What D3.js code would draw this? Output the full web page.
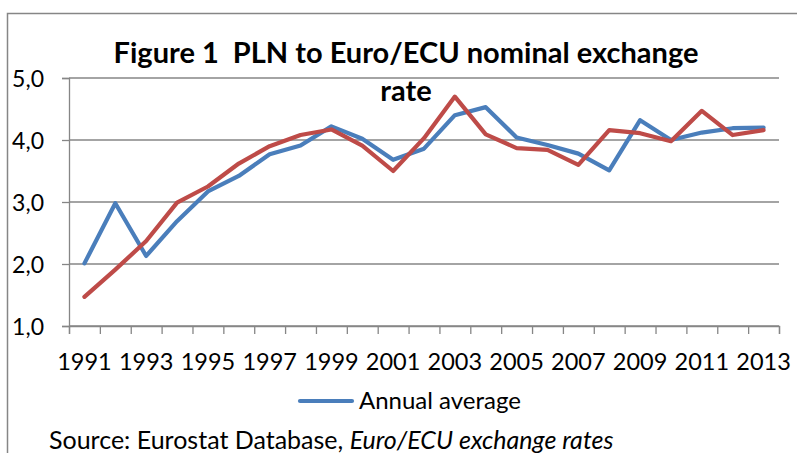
<!DOCTYPE html>
<html>
<head>
<meta charset="utf-8">
<script src="https://cdn.jsdelivr.net/npm/d3@7"></script>
<style>
  body { margin: 0; background: #fff; }
  text { font-family: Lato, "Open Sans", sans-serif; fill: #000; }
</style>
</head>
<body>
<div id="chart"></div>
<script>

// data
var years = ["1991","1992","1993","1994","1995","1996","1997","1998","1999","2000","2001",
             "2002","2003","2004","2005","2006","2007","2008","2009","2010","2011","2012","2013"];
var annualAverage = [2.01, 2.98, 2.13, 2.69, 3.17, 3.42, 3.77, 3.91, 4.22, 4.02, 3.68, 3.86,
                     4.40, 4.53, 4.04, 3.92, 3.78, 3.51, 4.32, 4.00, 4.12, 4.19, 4.20];
var secondSeries = [1.47, 1.91, 2.37, 2.99, 3.25, 3.62, 3.90, 4.08, 4.17, 3.91, 3.50, 4.03,
                    4.70, 4.09, 3.87, 3.84, 3.60, 4.16, 4.11, 3.98, 4.47, 4.08, 4.16];
var yTicks = [1, 2, 3, 4, 5];
var xLabels = years.filter(function(d, i) { return i % 2 === 0; });

var W = 797, H = 453;
var plot = {left: 69, right: 779, top: 78, bottom: 326};
var grey = "#868686";

var svg = d3.select("#chart")
  .append("svg")
    .attr("width", W)
    .attr("height", H);

// outer chart frame
svg.append("rect")
    .attr("x", 7.5).attr("y", 13.5)
    .attr("width", 900).attr("height", 600)
    .attr("fill", "#fff")
    .attr("stroke", grey)
    .attr("stroke-width", 1.5);

// scales
var x = d3.scaleBand()
    .domain(years)
    .range([plot.left, plot.right])
    .padding(0);
var xEdge = d3.scaleLinear()
    .domain([0, years.length])
    .range([plot.left, plot.right]);
var y = d3.scaleLinear()
    .domain([1, 5])
    .range([plot.bottom, plot.top]);

// gridlines
svg.append("g")
  .selectAll("line")
  .data(yTicks)
  .enter().append("line")
    .attr("x1", plot.left).attr("x2", plot.right)
    .attr("y1", function(d) { return y(d); })
    .attr("y2", function(d) { return y(d); })
    .attr("stroke", grey)
    .attr("stroke-width", 1.3);

// Y axis
var yAxis = svg.append("g")
    .attr("transform", "translate(" + plot.left + ",0)")
    .call(d3.axisLeft(y)
      .tickValues(yTicks)
      .tickSize(7)
      .tickPadding(18)
      .tickFormat(function(d) { return d.toFixed(1).replace(".", ","); }));
yAxis.select(".domain").attr("stroke", grey).attr("stroke-width", 1.3);
yAxis.selectAll(".tick line").attr("stroke", grey).attr("stroke-width", 1.3);
yAxis.selectAll("text").style("font-size", "23px").attr("fill", "#000").attr("dy", "0.36em");

// X axis: tick marks between categories
var xTicks = svg.append("g")
    .attr("transform", "translate(0," + plot.bottom + ")")
    .call(d3.axisBottom(xEdge)
      .tickValues(d3.range(0, years.length + 1))
      .tickSize(8)
      .tickFormat(""));
xTicks.select(".domain").attr("stroke", grey).attr("stroke-width", 1.3);
xTicks.selectAll(".tick line").attr("stroke", grey).attr("stroke-width", 1.3);

// X axis labels (every other year)
var xAxis = svg.append("g")
    .attr("transform", "translate(0," + plot.bottom + ")")
    .call(d3.axisBottom(x)
      .tickValues(xLabels)
      .tickSize(0)
      .tickPadding(27));
xAxis.select(".domain").remove();
xAxis.selectAll("text").style("font-size", "23.5px").attr("fill", "#000");

// lines
var line = d3.line()
    .x(function(d, i) { return x(years[i]) + x.bandwidth() / 2; })
    .y(function(d) { return y(d); });

svg.append("path")
    .datum(annualAverage)
    .attr("d", line)
    .attr("fill", "none")
    .attr("stroke", "#4a7ebb")
    .attr("stroke-width", 4.2)
    .attr("stroke-linejoin", "round")
    .attr("stroke-linecap", "round");

svg.append("path")
    .datum(secondSeries)
    .attr("d", line)
    .attr("fill", "none")
    .attr("stroke", "#be4b48")
    .attr("stroke-width", 4.2)
    .attr("stroke-linejoin", "round")
    .attr("stroke-linecap", "round");

// title
var title = svg.append("text")
    .attr("text-anchor", "middle")
    .style("font-size", "29px")
    .style("font-weight", "bold");
title.append("tspan").attr("x", 406).attr("y", 63).text("Figure 1\u00a0\u00a0PLN to Euro/ECU nominal exchange");
title.append("tspan").attr("x", 406).attr("y", 101).text("rate");

// legend
svg.append("line")
    .attr("x1", 300).attr("x2", 352)
    .attr("y1", 401).attr("y2", 401)
    .attr("stroke", "#4a7ebb")
    .attr("stroke-width", 4.2)
    .attr("stroke-linecap", "round");
svg.append("text")
    .attr("x", 359).attr("y", 409)
    .style("font-size", "24px")
    .text("Annual average");

// source note
var src = svg.append("text")
    .attr("x", 49).attr("y", 449)
    .style("font-size", "25px");
src.append("tspan").text("Source: Eurostat Database, ");
src.append("tspan").style("font-style", "italic").text("Euro/ECU exchange rates");

</script>
</body>
</html>
